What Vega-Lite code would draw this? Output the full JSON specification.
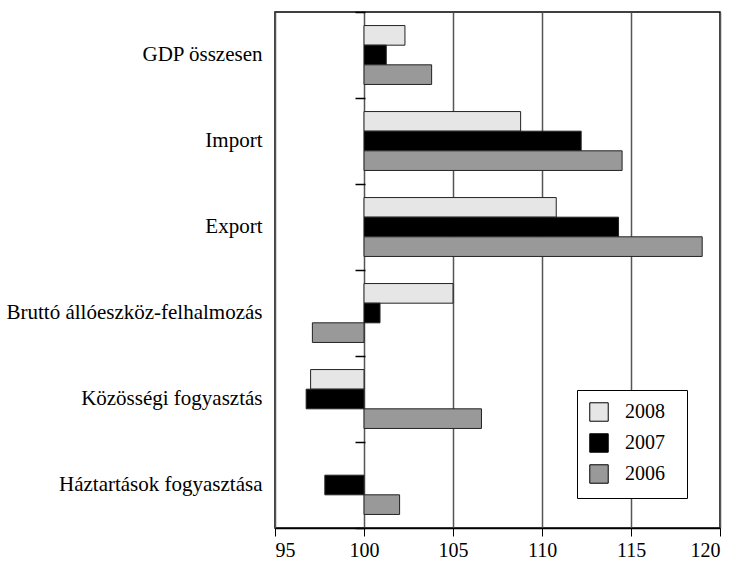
{
  "$schema": "https://vega.github.io/schema/vega-lite/v6.json",
  "width": 445,
  "height": 516,
  "autosize": "none",
  "padding": {"left": 275, "top": 12, "right": 20, "bottom": 36},
  "config": {
    "font": "Liberation Serif",
    "view": {"stroke": "#000", "strokeWidth": 1.5}
  },
  "data": {
    "values": [
      {"cat": "GDP összesen", "year": "2008", "value": 102.3},
      {"cat": "GDP összesen", "year": "2007", "value": 101.25},
      {"cat": "GDP összesen", "year": "2006", "value": 103.8},
      {"cat": "Import", "year": "2008", "value": 108.8},
      {"cat": "Import", "year": "2007", "value": 112.2},
      {"cat": "Import", "year": "2006", "value": 114.5},
      {"cat": "Export", "year": "2008", "value": 110.8},
      {"cat": "Export", "year": "2007", "value": 114.3},
      {"cat": "Export", "year": "2006", "value": 119.0},
      {"cat": "Bruttó állóeszköz-felhalmozás", "year": "2008", "value": 105.0},
      {"cat": "Bruttó állóeszköz-felhalmozás", "year": "2007", "value": 100.9},
      {"cat": "Bruttó állóeszköz-felhalmozás", "year": "2006", "value": 97.1},
      {"cat": "Közösségi fogyasztás", "year": "2008", "value": 97.0},
      {"cat": "Közösségi fogyasztás", "year": "2007", "value": 96.75},
      {"cat": "Közösségi fogyasztás", "year": "2006", "value": 106.6},
      {"cat": "Háztartások fogyasztása", "year": "2007", "value": 97.8},
      {"cat": "Háztartások fogyasztása", "year": "2006", "value": 102.0}
    ]
  },
  "resolve": {"axis": {"y": "independent"}},
  "layer": [
    {
      "mark": {"type": "bar", "stroke": "#222", "strokeWidth": 1},
      "encoding": {
        "y": {
          "field": "cat",
          "type": "nominal",
          "sort": ["GDP összesen", "Import", "Export", "Bruttó állóeszköz-felhalmozás", "Közösségi fogyasztás", "Háztartások fogyasztása"],
          "scale": {"paddingInner": 0, "paddingOuter": 0},
          "axis": {
            "title": null,
            "domain": false,
            "ticks": false,
            "labelFontSize": 21,
            "labelPadding": 13,
            "labelColor": "#000",
            "labelLimit": 300
          }
        },
        "yOffset": {
          "field": "year",
          "type": "nominal",
          "sort": ["2008", "2007", "2006"],
          "scale": {"paddingInner": 0, "paddingOuter": 0.69}
        },
        "x": {
          "field": "value",
          "type": "quantitative",
          "scale": {"domain": [95, 120], "zero": false, "nice": false},
          "axis": {
            "title": null,
            "values": [95, 100, 105, 110, 115, 120],
            "grid": true,
            "gridColor": "#555",
            "gridWidth": 1.5,
            "domainColor": "#000",
            "domainWidth": 1.5,
            "tickColor": "#000",
            "tickSize": 8,
            "labelPadding": 4,
            "labelFontSize": 20,
            "labelColor": "#000"
          }
        },
        "x2": {"datum": 100},
        "color": {
          "field": "year",
          "type": "nominal",
          "scale": {"domain": ["2008", "2007", "2006"], "range": ["#e6e6e6", "#000000", "#999999"]},
          "legend": {
            "title": "\u00a0",
            "titleOrient": "right",
            "titlePadding": 10,
            "titleFontSize": 4,
            "orient": "none",
            "legendX": 302,
            "legendY": 378,
            "strokeColor": "#000",
            "fillColor": "#fff",
            "padding": 12,
            "symbolType": "square",
            "symbolSize": 340,
            "symbolStrokeColor": "#000",
            "symbolStrokeWidth": 1,
            "symbolOpacity": 1,
            "labelFontSize": 20,
            "labelColor": "#000",
            "labelOffset": 16,
            "rowPadding": 7
          }
        }
      }
    },
    {
      "mark": {"type": "point", "opacity": 0},
      "encoding": {
        "y": {
          "field": "cat",
          "type": "nominal",
          "sort": ["GDP összesen", "Import", "Export", "Bruttó állóeszköz-felhalmozás", "Közösségi fogyasztás", "Háztartások fogyasztása"],
          "axis": {
            "orient": "left",
            "offset": -90,
            "title": null,
            "labels": false,
            "domain": false,
            "ticks": true,
            "tickBand": "extent",
            "tickSize": 10,
            "tickColor": "#000",
            "tickWidth": 1.5
          }
        },
        "x": {"datum": 100}
      }
    }
  ]
}
